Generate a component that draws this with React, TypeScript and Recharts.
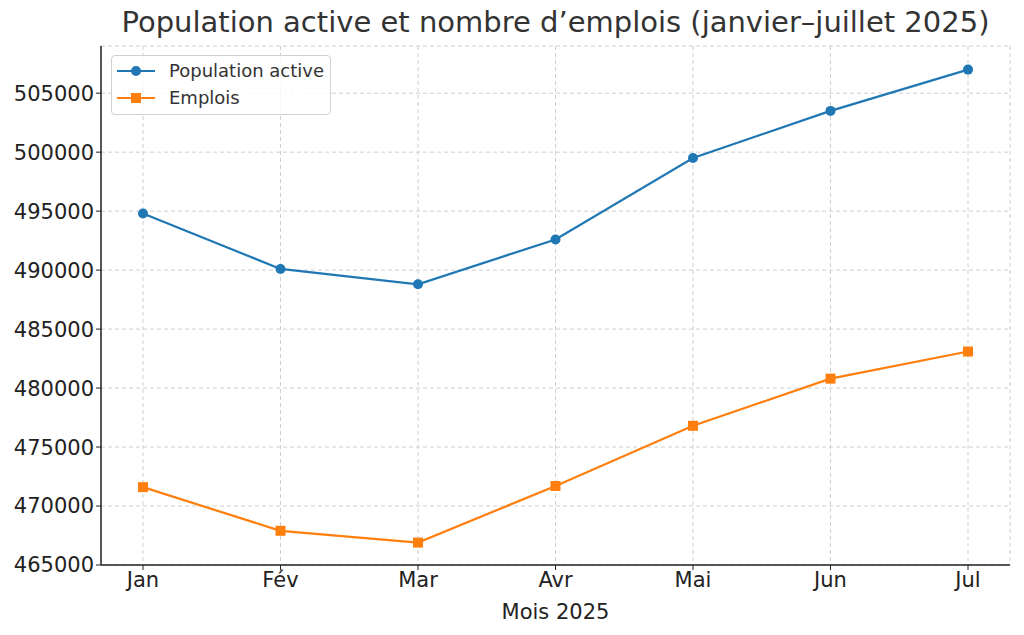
import { LineChart, Line, XAxis, YAxis, CartesianGrid } from "recharts";

// Data
const mois = ["Jan", "Fév", "Mar", "Avr", "Mai", "Jun", "Jul"];
const populationActive = [494800, 490100, 488800, 492600, 499500, 503500, 507000];
const emplois = [471600, 467900, 466900, 471700, 476800, 480800, 483100];
const yTicks = [465000, 470000, 475000, 480000, 485000, 490000, 495000, 500000, 505000];

const data = mois.map((m, i) => ({
    mois: m,
    population: populationActive[i],
    emplois: emplois[i],
}));

const BLUE = "#1f77b4";
const ORANGE = "#ff7f0e";
const FONT = "DejaVu Sans, sans-serif";

const SquareDot = (props: any) => {
    const { cx, cy } = props;
    if (cx == null || cy == null) return null;
    return <rect x={cx - 5} y={cy - 5} width={10} height={10} fill={ORANGE} />;
};

const LegendBox = () => (
    <div
        style={{
            position: "absolute",
            top: 55,
            left: 111,
            boxSizing: "border-box",
            width: 220,
            height: 60,
            background: "rgba(255,255,255,0.8)",
            border: "1px solid #d0d0d0",
            borderRadius: 4,
            padding: "1px 0 0 5px",
            fontFamily: FONT,
            fontSize: 18,
            color: "#333",
            whiteSpace: "nowrap",
        }}
    >
        <div style={{ display: "flex", alignItems: "center", height: 27 }}>
            <svg width={38} height={14} style={{ marginRight: 14, flexShrink: 0 }}>
                <line x1={0} y1={7} x2={38} y2={7} stroke={BLUE} strokeWidth={2} />
                <circle cx={19} cy={7} r={5} fill={BLUE} />
            </svg>
            <span>Population active</span>
        </div>
        <div style={{ display: "flex", alignItems: "center", height: 27 }}>
            <svg width={38} height={14} style={{ marginRight: 14, flexShrink: 0 }}>
                <line x1={0} y1={7} x2={38} y2={7} stroke={ORANGE} strokeWidth={2} />
                <rect x={14} y={2} width={10} height={10} fill={ORANGE} />
            </svg>
            <span>Emplois</span>
        </div>
    </div>
);

export default function App() {
    return (
        <div style={{ position: "absolute", left: 0, top: 0, width: 1024, height: 635, background: "#fff" }}>
            <div
                style={{
                    position: "absolute",
                    top: 5,
                    left: 101,
                    width: 909,
                    textAlign: "center",
                    fontFamily: FONT,
                    fontSize: 29,
                    color: "#333",
                }}
            >
                Population active et nombre d’emplois (janvier–juillet 2025)
            </div>
            <LineChart
                width={1024}
                height={635}
                data={data}
                margin={{ top: 46, right: 14, left: 0, bottom: 0 }}
            >
                <CartesianGrid stroke="#cfcfcf" strokeDasharray="4 3" />
                <XAxis
                    dataKey="mois"
                    padding={{ left: 42, right: 42 }}
                    height={70}
                    tick={{ fontSize: 21, fill: "#222", fontFamily: FONT }}
                    tickLine={{ stroke: "#222" }}
                    tickSize={5}
                    axisLine={{ stroke: "#222", strokeWidth: 1.5 }}
                    label={{
                        value: "Mois 2025",
                        position: "insideBottom",
                        offset: 16,
                        fontSize: 21,
                        fill: "#222",
                        fontFamily: FONT,
                    }}
                />
                <YAxis
                    domain={[465000, 509000]}
                    ticks={yTicks}
                    width={101}
                    interval={0}
                    tick={{ fontSize: 21, fill: "#222", fontFamily: FONT }}
                    tickLine={{ stroke: "#222" }}
                    tickSize={5}
                    axisLine={{ stroke: "#222", strokeWidth: 1.5 }}
                />
                <Line
                    type="linear"
                    dataKey="population"
                    name="Population active"
                    stroke={BLUE}
                    strokeWidth={2.2}
                    dot={{ r: 5, fill: BLUE, stroke: BLUE, strokeWidth: 0 }}
                    isAnimationActive={false}
                />
                <Line
                    type="linear"
                    dataKey="emplois"
                    name="Emplois"
                    stroke={ORANGE}
                    strokeWidth={2.2}
                    dot={<SquareDot />}
                    isAnimationActive={false}
                />
            </LineChart>
            <LegendBox />
        </div>
    );
}
